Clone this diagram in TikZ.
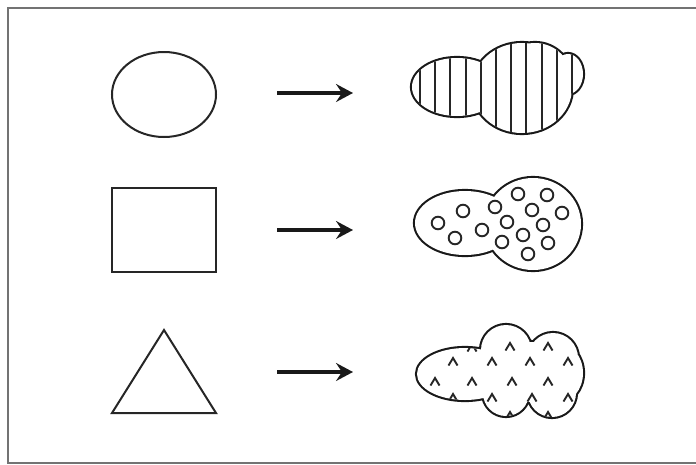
\documentclass[tikz,border=0pt]{standalone}
\usetikzlibrary{arrows.meta,shapes.geometric}
\begin{document}
\begin{tikzpicture}[x=1pt,y=-1pt,
  shapeline/.style={line width=2pt, draw=black!85},
  arr/.style={line width=3.4pt, draw=black!90, -{Stealth[length=17pt,width=18pt,inset=6pt]}},
  blobedge/.style={line width=4.2pt, draw=black!90},
  pat/.style={line width=1.9pt, draw=black!85},
  blobA/.style={insert path={(457,87) ellipse [x radius=45,y radius=29]
     (522,88) ellipse [x radius=50,y radius=45]
     (535,80) ellipse [x radius=37,y radius=37]
     (568,74) ellipse [x radius=15,y radius=20]}},
  blobB/.style={insert path={(465,223) ellipse [x radius=50,y radius=32]
     (533,224) ellipse [x radius=48,y radius=46]}},
  blobC/.style={insert path={(465,374) ellipse [x radius=48,y radius=26]
     (506,350) circle [radius=25]
     (553,358) circle [radius=25]
     (558,373) ellipse [x radius=25,y radius=30]
     (506,393) circle [radius=23]
     (552,393) circle [radius=24]
     (530,372) ellipse [x radius=35,y radius=30]}}]
\useasboundingbox (0,0) rectangle (696,464);
% frame
\draw[line width=2.4pt, draw=black!55] (700,8) -- (8,8) -- (8,463) -- (700,463);

% left shapes
\node[ellipse, shapeline, minimum width=104pt, minimum height=85pt, inner sep=0pt] (circ) at (164,94.5) {};
\node[rectangle, shapeline, minimum width=104pt, minimum height=84pt, inner sep=0pt] (sq) at (164,230) {};
\coordinate (t1) at (112,413);
\coordinate (t2) at (164,330);
\coordinate (t3) at (216,413);
\draw[shapeline] (t1) -- (t2) -- (t3) -- cycle;

% arrows
\coordinate (a1s) at (277,93);  \coordinate (a1e) at (353,93);
\coordinate (a2s) at (277,230); \coordinate (a2e) at (353,230);
\coordinate (a3s) at (277,372); \coordinate (a3e) at (353,372);
\draw[arr] (a1s) -- (a1e);
\draw[arr] (a2s) -- (a2e);
\draw[arr] (a3s) -- (a3e);

% blob A: stripes
\draw[blobedge, blobA];
\fill[white, blobA];
\begin{scope}
  \clip[blobA];
  \foreach \k in {0,...,10}
    \draw[pat] (420+15.2*\k,30) -- (420+15.2*\k,140);
\end{scope}

% blob B: small circles
\draw[blobedge, blobB];
\fill[white, blobB];
\foreach \px/\py in {438/223,463/211,455/238,482/230,495/207,507/222,502/242,
  518/194,532/210,523/235,528/254,547/195,562/213,543/225,548/243}
  \draw[pat] (\px,\py) circle [radius=6.3];

% blob C: carets
\draw[blobedge, blobC];
\fill[white, blobC];
\begin{scope}
  \clip[blobC];
  \foreach \px/\py in {472/348,510/347,548/347,
    453/362,492/362,530/362,568/362,
    435/382,472/382,512/382,548/382,
    453/398,492/398,532/398,568/398,
    510/416,548/416}
    \draw[pat] (\px-4.5,\py+3.5) -- (\px,\py-4) -- (\px+4.5,\py+3.5);
\end{scope}
\end{tikzpicture}
\end{document}
